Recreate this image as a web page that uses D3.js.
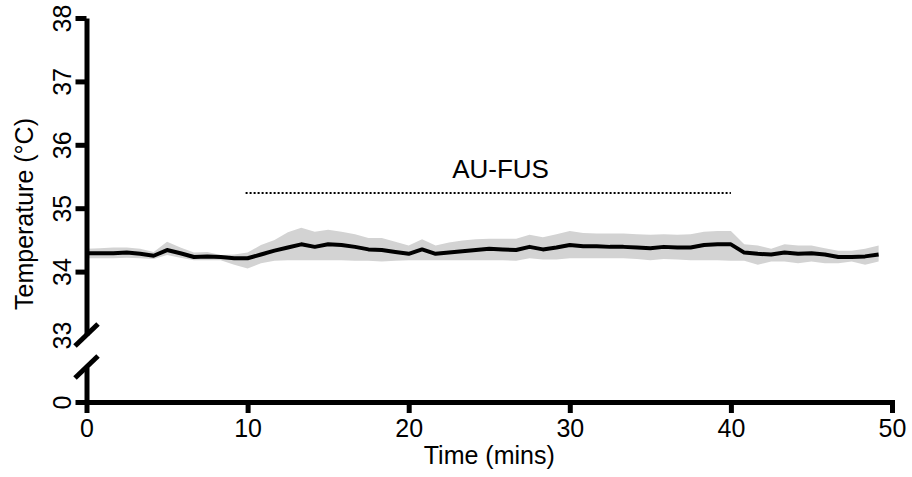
<!DOCTYPE html>
<html><head><meta charset="utf-8">
<script src="https://cdn.jsdelivr.net/npm/d3@7"></script>
<style>
body{margin:0;background:#fff;}
text{font-family:"Liberation Sans",Arial,sans-serif;fill:#000;}
</style></head>
<body><svg id="chart" width="912" height="477"></svg>
<script>
const times = [0, 0.83, 1.67, 2.5, 3.33, 4.17, 5, 5.83, 6.67, 7.5, 8.33, 9.17, 10, 10.83, 11.67, 12.5, 13.33, 14.17, 15, 15.83, 16.67, 17.5, 18.33, 19.17, 20, 20.83, 21.67, 22.5, 23.33, 24.17, 25, 25.83, 26.67, 27.5, 28.33, 29.17, 30, 30.83, 31.67, 32.5, 33.33, 34.17, 35, 35.83, 36.67, 37.5, 38.33, 39.17, 40, 40.83, 41.67, 42.5, 43.33, 44.17, 45, 45.83, 46.67, 47.5, 48.33, 49.17];
const meanTemp = [34.29, 34.29, 34.29, 34.30, 34.28, 34.25, 34.34, 34.29, 34.23, 34.24, 34.23, 34.21, 34.21, 34.27, 34.33, 34.38, 34.43, 34.39, 34.43, 34.42, 34.39, 34.35, 34.34, 34.31, 34.28, 34.35, 34.28, 34.30, 34.32, 34.34, 34.36, 34.35, 34.34, 34.39, 34.35, 34.38, 34.42, 34.40, 34.40, 34.39, 34.39, 34.38, 34.37, 34.39, 34.38, 34.38, 34.42, 34.43, 34.43, 34.30, 34.28, 34.27, 34.30, 34.28, 34.29, 34.27, 34.23, 34.23, 34.24, 34.27];
const upperTemp = [34.36, 34.37, 34.38, 34.38, 34.36, 34.31, 34.47, 34.38, 34.30, 34.31, 34.26, 34.27, 34.30, 34.42, 34.50, 34.62, 34.69, 34.63, 34.66, 34.63, 34.59, 34.53, 34.53, 34.47, 34.41, 34.51, 34.41, 34.46, 34.49, 34.51, 34.52, 34.52, 34.52, 34.58, 34.54, 34.59, 34.64, 34.61, 34.60, 34.60, 34.60, 34.59, 34.58, 34.59, 34.58, 34.59, 34.63, 34.64, 34.64, 34.43, 34.41, 34.36, 34.43, 34.41, 34.41, 34.37, 34.33, 34.33, 34.36, 34.41];
const lowerTemp = [34.21, 34.21, 34.21, 34.22, 34.21, 34.20, 34.26, 34.22, 34.18, 34.18, 34.18, 34.11, 34.05, 34.13, 34.17, 34.18, 34.18, 34.18, 34.18, 34.18, 34.17, 34.17, 34.16, 34.17, 34.18, 34.18, 34.18, 34.18, 34.18, 34.18, 34.18, 34.18, 34.17, 34.21, 34.19, 34.19, 34.21, 34.21, 34.21, 34.21, 34.21, 34.20, 34.18, 34.20, 34.19, 34.18, 34.18, 34.18, 34.17, 34.17, 34.11, 34.16, 34.16, 34.13, 34.16, 34.13, 34.13, 34.16, 34.11, 34.16];
const xTicks = [0, 10, 20, 30, 40, 50];
const yTicksUpper = [34, 35, 36, 37, 38];
const yBreakLabel = [33];
const yTicksLower = [0];
const stimLabel = "AU-FUS";
const stimStart = 10, stimEnd = 40, stimLevel = 35.24;
const xTitle = "Time (mins)";
const yTitle = "Temperature (°C)";

const data = times.map((t, i) => ({t, m: meanTemp[i], lo: lowerTemp[i], hi: upperTemp[i]}));
const svg = d3.select("#chart");
const FS = 25;

const x = d3.scaleLinear().domain([0, 50]).range([86.5, 892]);
const yTop = d3.scaleLinear().domain([33, 38]).range([335, 18]);
const yBot = d3.scaleLinear().domain([0, 1]).range([402, 367]);

// band
svg.append("path").datum(data)
  .attr("fill", "#d3d3d3")
  .attr("d", d3.area().x(d => x(d.t)).y0(d => yTop(d.lo)).y1(d => yTop(d.hi)));
// mean line
svg.append("path").datum(data)
  .attr("fill", "none").attr("stroke", "#000").attr("stroke-width", 4).attr("stroke-linejoin", "round")
  .attr("d", d3.line().x(d => x(d.t)).y(d => yTop(d.m)));

function styleAxis(g) {
  g.selectAll("path.domain").attr("stroke", "#000").attr("stroke-width", 5);
  g.selectAll(".tick line").attr("stroke", "#000").attr("stroke-width", 5);
  g.selectAll("text").style("font-size", FS + "px").style("font-family", "Liberation Sans, Arial, sans-serif");
}
function rotateY(g) {
  g.selectAll(".tick text")
    .attr("x", null).attr("dy", null)
    .attr("text-anchor", "middle")
    .attr("transform", "translate(-16,0) rotate(-90)")
    .attr("y", 0);
}

// upper y axis
const gTop = svg.append("g").attr("transform", `translate(${x(0)},0)`)
  .call(d3.axisLeft(yTop).tickValues(yTicksUpper).tickFormat(d3.format("d")).tickSize(11).tickSizeOuter(0));
styleAxis(gTop); rotateY(gTop);
const gTop33 = svg.append("g").attr("transform", `translate(${x(0)},0)`)
  .call(d3.axisLeft(yTop).tickValues(yBreakLabel).tickFormat(d3.format("d")).tickSize(0).tickSizeOuter(0));
gTop33.select("path.domain").remove();
styleAxis(gTop33); rotateY(gTop33);

// lower y axis
const gBot = svg.append("g").attr("transform", `translate(${x(0)},0)`)
  .call(d3.axisLeft(yBot).tickValues(yTicksLower).tickFormat(d3.format("d")).tickSize(11).tickSizeOuter(0));
styleAxis(gBot); rotateY(gBot);

// x axis
const gX = svg.append("g").attr("transform", `translate(0,${yBot(0)})`)
  .call(d3.axisBottom(x).tickValues(xTicks).tickFormat(d3.format("d")).tickSize(11).tickPadding(6).tickSizeOuter(0));
styleAxis(gX);
gX.select("path.domain").attr("stroke-linecap", "square");

// break marks
[yTop(33), yBot(1)].forEach(yy => {
  svg.append("line").attr("x1", x(0) - 11.5).attr("y1", yy + 11).attr("x2", x(0) + 11.5).attr("y2", yy - 11)
    .attr("stroke", "#000").attr("stroke-width", 5);
});

// stimulus annotation
svg.append("line").attr("x1", x(stimStart) - 2).attr("x2", x(stimEnd))
  .attr("y1", yTop(stimLevel)).attr("y2", yTop(stimLevel))
  .attr("stroke", "#000").attr("stroke-width", 2).attr("stroke-dasharray", "2,2");
svg.append("text").attr("x", x(25.7)).attr("y", 178).attr("text-anchor", "middle")
  .style("font-size", "26px").text(stimLabel);

// titles
svg.append("text").attr("x", (x(0) + x(50)) / 2).attr("y", 464).attr("text-anchor", "middle")
  .style("font-size", FS + "px").text(xTitle);
svg.append("text").attr("transform", "translate(33,214) rotate(-90)").attr("text-anchor", "middle")
  .style("font-size", FS + "px").text(yTitle);
</script></body></html>
